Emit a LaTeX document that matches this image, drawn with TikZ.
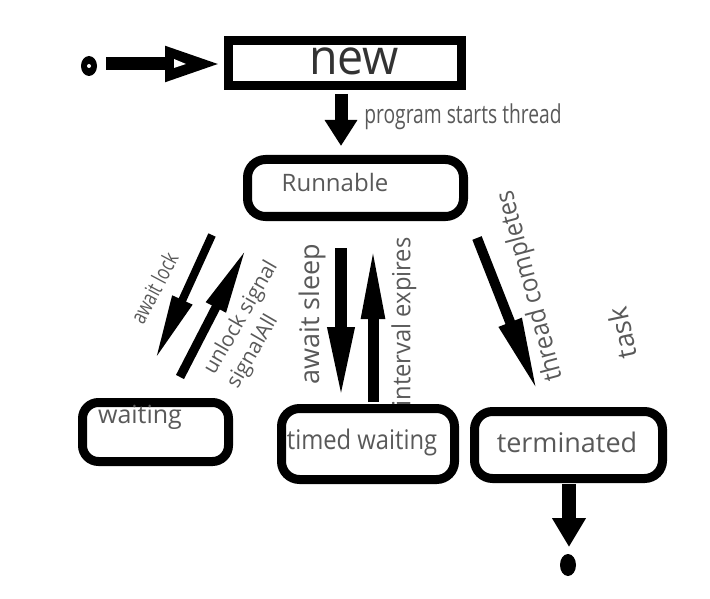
\documentclass[tikz,border=0pt]{standalone}
\usepackage{fontspec}
\setmainfont{Open Sans}
\newfontfamily\condfont{Open Sans}[FakeStretch=0.75]
\usetikzlibrary{arrows.meta,shapes.geometric}
\newcommand\lbl[3]{\scalebox{#2}[1]{\fontsize{#1}{#1}\selectfont #3}}
\definecolor{txt}{HTML}{595959}
\definecolor{dtxt}{HTML}{333333}
\tikzset{
  state/.style={draw, line width=9pt, rounded corners=18pt, inner sep=0pt},
  sqstate/.style={draw, line width=9pt, inner sep=0pt},
  barrow/.style n args={3}{line width=#1, -{Triangle[length=#2, width=#3]}},
  lab/.style={text=txt, inner sep=0pt},
  dot/.style={ellipse, fill=black, inner sep=0pt}
}
\begin{document}
\begin{tikzpicture}[x=1pt,y=-1pt]
\useasboundingbox (0,0) rectangle (710,599);
% states
\node[sqstate, minimum width=233pt, minimum height=45pt] (new) at (345,63) {};
\node[state, minimum width=216pt, minimum height=57pt] (run) at (355.5,188) {};
\node[state, rounded corners=16pt, minimum width=146pt, minimum height=59pt] (wait) at (155.5,432) {};
\node[state, minimum width=173pt, minimum height=71pt] (tw) at (368,444) {};
\node[state, minimum width=188pt, minimum height=67pt] (term) at (568.5,445) {};
% texts in states
\node[text=dtxt, inner sep=0pt] (newt) at (354,61) {\lbl{49}{0.95}{new}};
\node[lab] (runt) at (335,183) {\lbl{24}{1}{Runnable}};
\node[lab] (waitt) at (140,417) {\lbl{25}{1}{waiting}};
\node[lab] (twt) at (362,442) {\lbl{27}{0.88}{timed waiting}};
\node[lab] (termt) at (567,442) {\lbl{27}{1}{terminated}};
% pseudo states
\node[dot, minimum width=16pt, minimum height=20pt] (start) at (89,66) {};
\fill[white] (start.center) circle (2pt);
\node[dot, minimum width=16pt, minimum height=22pt] (end) at (568,565) {};
% arrow end points
\coordinate (s1) at (106,64); \coordinate (e1) at (222,64);
\coordinate (s2) at (341,94); \coordinate (e2) at (341,146);
\coordinate (s3) at (212,235); \coordinate (e3) at (155,360);
\coordinate (s4) at (180,377); \coordinate (e4) at (247,247);
\coordinate (s5) at (341,248); \coordinate (e5) at (341,402);
\coordinate (s6) at (373,402); \coordinate (e6) at (373,243);
\coordinate (s7) at (477,238); \coordinate (e7) at (538,393);
\coordinate (s8) at (569,484); \coordinate (e8) at (569,547);
% arrows
\draw[barrow={13pt}{57pt}{32pt}] (s1) -- (e1);
\fill[white] (174,59) -- (186,64) -- (174,68) -- cycle;
\draw[barrow={13pt}{26pt}{31pt}] (s2) -- (e2);
\draw[barrow={8pt}{66pt}{20pt}] (s3) -- (e3);
\draw[barrow={9pt}{68pt}{20pt}] (s4) -- (e4);
\draw[barrow={12pt}{75pt}{24pt}] (s5) -- (e5);
\draw[barrow={11pt}{76pt}{21pt}] (s6) -- (e6);
\draw[barrow={10pt}{76pt}{22pt}] (s7) -- (e7);
\draw[barrow={14pt}{29pt}{32pt}] (s8) -- (e8);
% labels
\node[lab] (l2) at (463,117) {\lbl{26}{0.74}{program starts thread}};
\node[lab, rotate=62, font=\condfont\fontsize{22}{22}\selectfont] (l3) at (154,288) {await lock};
\node[lab, rotate=60, align=left, font=\fontsize{21}{27}\selectfont] (l4) at (253,325) {unlock signal\\signalAll};
\node[lab, rotate=90] (l5) at (312,314) {\lbl{27}{1}{await sleep}};
\node[lab, rotate=90] (l6) at (404,322) {\lbl{25}{0.95}{interval expires}};
\node[lab, rotate=105] (l7) at (531,286) {\lbl{26}{0.92}{thread completes}};
\node[lab, rotate=102] (l8) at (622,333) {\lbl{27}{1}{task}};
\end{tikzpicture}
\end{document}
